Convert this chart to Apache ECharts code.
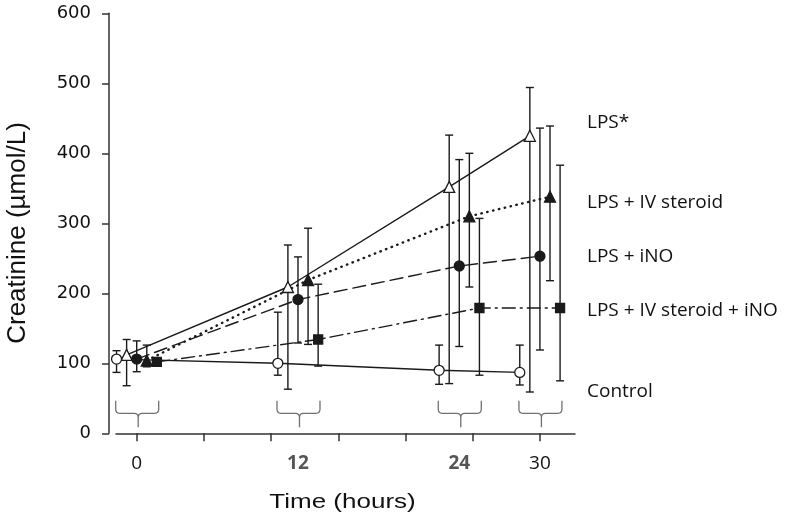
<!DOCTYPE html>
<html>
<head>
<meta charset="utf-8">
<script src="https://cdn.jsdelivr.net/npm/echarts@6/dist/echarts.min.js"></script>
<style>html,body{margin:0;padding:0;background:#fff}#c{width:786px;height:527px}</style>
</head>
<body>
<div id="c"></div>
<script>
// ---- data ----
const times = [0, 12, 24, 30];
const xTickValues = [0, 5, 10, 15, 20, 25, 30];
const xLabelValues = [0, 12, 24, 30];

const seriesNames = ['LPS*', 'LPS + IV steroid', 'LPS + iNO', 'LPS + IV steroid + iNO', 'Control'];

const lpsMean = [112, 209, 352, 425];
const lpsLow  = [68, 63, 71, 59];
const lpsHigh = [134, 269, 426, 494];

const steroidMean = [104, 219, 310, 338];
const steroidLow  = [95, 127, 209, 218];
const steroidHigh = [126, 293, 400, 439];

const inoMean = [106, 191, 239, 253];
const inoLow  = [88, 129, 124, 119];
const inoHigh = [132, 252, 391, 436];

const bothMean = [102, 134, 179, 179];
const bothLow  = [99, 96, 83, 75];
const bothHigh = [105, 213, 307, 383];

const controlMean = [106, 100, 90, 87];
const controlLow  = [87, 83, 70, 69];
const controlHigh = [118, 173, 126, 126];

// ---- styles (dodge within each time group, symbols, dashes) ----
const INK = '#1a1a1a';
const groups = [
  {name: seriesNames[0], mean: lpsMean, low: lpsLow, high: lpsHigh, dodge: -0.75, symbol: 'triangle', size: 11, fill: '#fff', dash: 'solid', width: 1.4},
  {name: seriesNames[1], mean: steroidMean, low: steroidLow, high: steroidHigh, dodge: 0.75, symbol: 'triangle', size: 11, fill: INK, dash: [0.5, 5.5], width: 2.4},
  {name: seriesNames[2], mean: inoMean, low: inoLow, high: inoHigh, dodge: 0, symbol: 'circle', size: 10, fill: INK, dash: [13, 6], width: 1.4},
  {name: seriesNames[3], mean: bothMean, low: bothLow, high: bothHigh, dodge: 1.5, symbol: 'rect', size: 9, fill: INK, dash: [13, 5, 2, 5], width: 1.4},
  {name: seriesNames[4], mean: controlMean, low: controlLow, high: controlHigh, dodge: -1.5, symbol: 'circle', size: 10, fill: '#fff', dash: 'solid', width: 1.4}
];

const series = [];

// braces under each time group
series.push({
  type: 'custom',
  silent: true,
  z: 1,
  data: times.map(t => [t]),
  renderItem: function (params, api) {
    const p = api.coord([api.value(0), 0]);
    const cx = p[0] + 1.5, L = p[0] - 21, R = p[0] + 22;
    const top = p[1] - 32.6, hy = p[1] - 20, bot = p[1] - 6, r = 4;
    const d = 'M' + L + ' ' + top + ' L' + L + ' ' + (hy - r) + ' Q' + L + ' ' + hy + ' ' + (L + r) + ' ' + hy +
      ' L' + (cx - r) + ' ' + hy + ' Q' + cx + ' ' + hy + ' ' + cx + ' ' + (hy + r) + ' L' + cx + ' ' + bot +
      ' M' + R + ' ' + top + ' L' + R + ' ' + (hy - r) + ' Q' + R + ' ' + hy + ' ' + (R - r) + ' ' + hy +
      ' L' + (cx + r) + ' ' + hy + ' Q' + cx + ' ' + hy + ' ' + cx + ' ' + (hy + r);
    return {type: 'path', shape: {pathData: d}, style: {fill: null, stroke: '#707070', lineWidth: 1.3}};
  }
});

groups.forEach(g => {
  // error bars
  series.push({
    type: 'custom',
    silent: true,
    z: 2,
    data: times.map((t, i) => [t + g.dodge, g.low[i], g.high[i]]),
    renderItem: function (params, api) {
      const a = api.coord([api.value(0), api.value(1)]);
      const b = api.coord([api.value(0), api.value(2)]);
      const w = 4;
      const st = {stroke: INK, lineWidth: 1.4};
      return {type: 'group', children: [
        {type: 'line', shape: {x1: a[0], y1: a[1], x2: b[0], y2: b[1]}, style: st},
        {type: 'line', shape: {x1: a[0] - w, y1: a[1], x2: a[0] + w, y2: a[1]}, style: st},
        {type: 'line', shape: {x1: b[0] - w, y1: b[1], x2: b[0] + w, y2: b[1]}, style: st}
      ]};
    }
  });
  // mean line with markers
  series.push({
    name: g.name,
    type: 'line',
    z: 3,
    data: times.map((t, i) => [t + g.dodge, g.mean[i]]),
    symbol: g.symbol,
    symbolSize: g.size,
    showAllSymbol: true,
    lineStyle: {color: INK, width: g.width, type: g.dash, cap: 'round'},
    itemStyle: {color: g.fill, borderColor: INK, borderWidth: 1.3},
    emphasis: {disabled: true}
  });
});

const chart = echarts.init(document.getElementById('c'), null, {renderer: 'canvas'});
chart.setOption({
  animation: false,
  grid: {left: 116, right: 211, top: 13.3, bottom: 93.7},
  xAxis: {
    type: 'value', min: -1.54, max: 32.61,
    splitLine: {show: false},
    axisLine: {show: true, onZero: false, lineStyle: {color: '#333', width: 1.5}},
    axisTick: {show: true, length: 8, customValues: xTickValues, lineStyle: {color: '#333', width: 1.5}},
    axisLabel: {
      customValues: xLabelValues, margin: 21,
      formatter: v => (v === 12 || v === 24) ? '{b|' + v + '}' : '{n|' + v + '}',
      rich: {
        n: {fontFamily: 'Open Sans', fontSize: 19, color: '#111'},
        b: {fontFamily: 'Open Sans', fontSize: 19, fontWeight: 'bold', color: '#555'}
      }
    }
  },
  yAxis: {
    type: 'value', min: 0, max: 600, interval: 100, offset: 7,
    splitLine: {show: false},
    axisLine: {show: true, onZero: false, lineStyle: {color: '#333', width: 1.5}},
    axisTick: {show: true, length: 7, lineStyle: {color: '#333', width: 1.5}},
    axisLabel: {margin: 18, fontFamily: 'DejaVu Sans', fontSize: 18, color: '#111'}
  },
  graphic: [
    {type: 'text', x: 342.5, y: 502, scaleX: 1.3, style: {text: 'Time (hours)', font: '20px "Liberation Sans"', fill: '#111', textAlign: 'center', textVerticalAlign: 'middle'}},
    {type: 'text', x: 18, y: 233, rotation: Math.PI / 2, style: {text: 'Creatinine (µmol/L)', font: '26px "Liberation Sans"', fill: '#111', textAlign: 'center', textVerticalAlign: 'middle'}},
    {type: 'text', x: 587, y: 123, style: {text: seriesNames[0], font: '19px "Open Sans"', fill: '#111', textVerticalAlign: 'middle'}},
    {type: 'text', x: 587, y: 203, style: {text: seriesNames[1], font: '19px "Open Sans"', fill: '#111', textVerticalAlign: 'middle'}},
    {type: 'text', x: 587, y: 257, style: {text: seriesNames[2], font: '19px "Open Sans"', fill: '#111', textVerticalAlign: 'middle'}},
    {type: 'text', x: 587, y: 311, style: {text: seriesNames[3], font: '19px "Open Sans"', fill: '#111', textVerticalAlign: 'middle'}},
    {type: 'text', x: 587, y: 392, style: {text: seriesNames[4], font: '19px "Open Sans"', fill: '#111', textVerticalAlign: 'middle'}}
  ],
  series: series
});
</script>
</body>
</html>
